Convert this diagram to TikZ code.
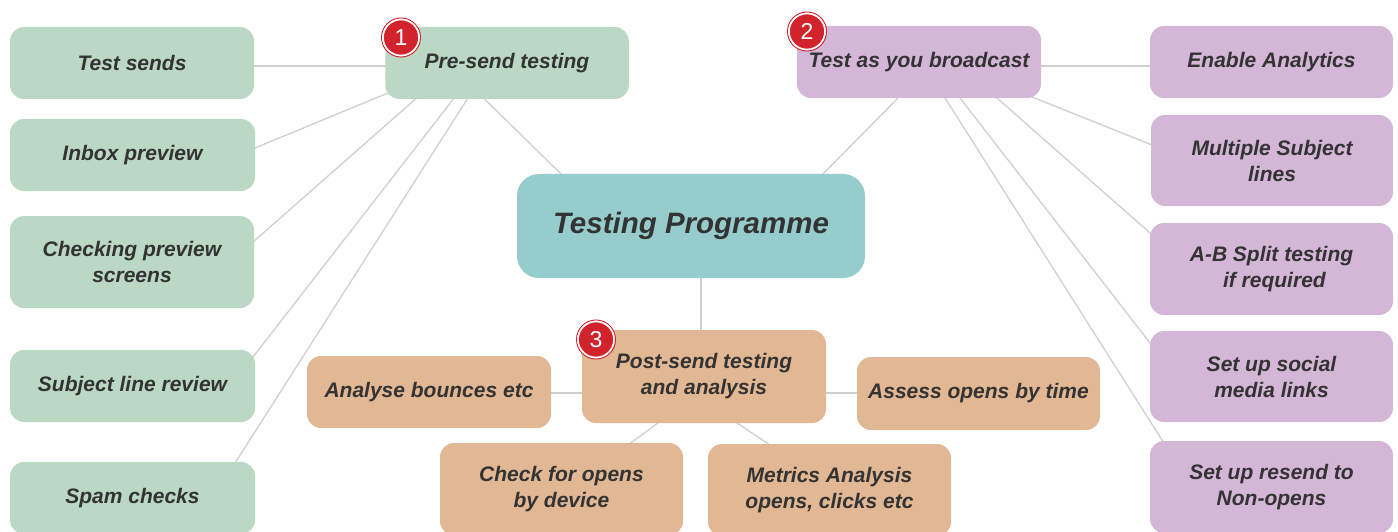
\documentclass[tikz,border=0pt]{standalone}
\usepackage{fontspec}
\setmainfont{Liberation Sans}
\usetikzlibrary{calc,backgrounds}
\definecolor{grn}{HTML}{BAD8C3}
\definecolor{prp}{HTML}{D4B6D6}
\definecolor{teal}{HTML}{96CCCB}
\definecolor{tan}{HTML}{E2B794}
\definecolor{txt}{HTML}{333333}
\definecolor{lnk}{HTML}{CFCFCF}
\definecolor{bred}{HTML}{D2222B}
\tikzset{
  box/.style={rounded corners=14pt, minimum width=244pt, minimum height=72pt, inner sep=0pt,
    align=center, text=txt, font=\fontsize{21}{26}\selectfont\bfseries\itshape},
  gbox/.style={box, fill=grn},
  pbox/.style={box, fill=prp},
  obox/.style={box, fill=tan},
  tall/.style={minimum height=92pt},
  link/.style={draw=lnk, line width=1.3pt, shorten <=-12pt, shorten >=-12pt},
  badge/.style={circle, fill=bred, draw=white, line width=1.6pt, minimum size=36pt, inner sep=0pt,
    text=white, font=\fontsize{23}{23}\selectfont},
  badgering/.style={circle, draw=bred, line width=1pt, minimum size=39pt, inner sep=0pt}
}
\begin{document}
\begin{tikzpicture}[x=1pt,y=-1pt]
\useasboundingbox (0,0) rectangle (1398,532);
\clip (0,0) rectangle (1398,532);
% central
\node[box, fill=teal, minimum width=348pt, minimum height=104pt, rounded corners=22pt,
  font=\fontsize{29.5}{34}\selectfont\bfseries\itshape] (tp) at (691,226) {Testing Programme};
% left column
\node[gbox] (ts) at (132,63) {Test sends};
\node[gbox, minimum width=245pt] (ip) at (132.5,155) {Inbox preview};
\node[gbox, tall] (cp) at (132,262) {Checking preview\\screens};
\node[gbox, minimum width=245pt] (sl) at (132.5,386) {Subject line review};
\node[gbox, minimum width=245pt] (sc) at (132.5,498) {Spam checks};
\node[gbox, minimum width=243.5pt] (ps) at (507,63) {Pre-send testing};
% right
\node[pbox] (tb) at (919,62) {Test as you broadcast};
\node[pbox, minimum width=243pt] (ea) at (1271.5,62) {Enable Analytics};
\node[pbox, minimum width=242pt, minimum height=91pt] (ms) at (1272,160.5) {Multiple Subject\\lines};
\node[pbox, minimum width=243pt, tall] (abs) at (1271.5,269) {A-B Split testing\\~if required};
\node[pbox, minimum width=243pt, minimum height=91pt] (ss) at (1271.5,376.5) {Set up social\\media links};
\node[pbox, minimum width=243pt, tall] (rn) at (1271.5,487) {Set up resend to\\Non-opens};
% bottom
\node[obox, minimum height=93pt] (pst) at (704,376.5) {Post-send testing\\and analysis};
\node[obox] (ab) at (429,392) {Analyse bounces etc};
\node[obox, minimum width=243pt, minimum height=73pt] (ao) at (978.5,393.5) {Assess opens by time};
\node[obox, minimum width=243pt, tall] (cd) at (561.5,489) {Check for opens\\by device};
\node[obox, minimum width=243pt, tall] (ma) at (829.5,490) {Metrics Analysis\\opens, clicks etc};
% badges
\node[badgering] (r1) at (401,37.5) {};
\node[badge] (b1) at (r1) {1};
\node[badgering] (r2) at (807,31.5) {};
\node[badge] (b2) at (r2) {2};
\node[badgering] (r3) at (596,339.5) {};
\node[badge] (b3) at (r3) {3};
% connectors
\begin{pgfonlayer}{background}
\draw[link] ($(ts)+(122,3)$) -- ($(ps)+(-121.5,3)$);
\draw[link] ($(ip)+(122.5,-7)$) -- ($(ps)+(-119,30)$);
\draw[link] ($(cp)+(121,-20)$) -- ($(ps)+(-92,36.5)$);
\draw[link] ($(sl)+(120.5,-29)$) -- ($(ps)+(-54,36.5)$);
\draw[link] ($(sc)+(104.5,-38)$) -- ($(ps)+(-40,36.5)$);
\draw[link] ($(ps)+(-22,36.5)$) -- ($(tp)+(-131,-53)$);
\draw[link] ($(tb)+(122,4)$) -- ($(ea)+(-121.5,4)$);
\draw[link] ($(tb)+(113,35)$) -- ($(ms)+(-120,-15.5)$);
\draw[link] ($(tb)+(78,36)$) -- ($(abs)+(-121.5,-36)$);
\draw[link] ($(tb)+(41,36)$) -- ($(ss)+(-121.5,-33.5)$);
\draw[link] ($(tb)+(26,36)$) -- ($(rn)+(-109.5,-47)$);
\draw[link] ($(tb)+(-21,36)$) -- ($(tp)+(131,-51)$);
\draw[link] ($(tp)+(10,52)$) -- ($(pst)+(-3,-46.5)$);
\draw[link] ($(ab)+(122,1)$) -- ($(pst)+(-122,16.5)$);
\draw[link] ($(pst)+(122,16.5)$) -- ($(ao)+(-121.5,-0.5)$);
\draw[link] ($(pst)+(-46,46.5)$) -- ($(cd)+(70.5,-47)$);
\draw[link] ($(pst)+(33,46.5)$) -- ($(ma)+(-62.5,-47)$);
\end{pgfonlayer}
\end{tikzpicture}
\end{document}
